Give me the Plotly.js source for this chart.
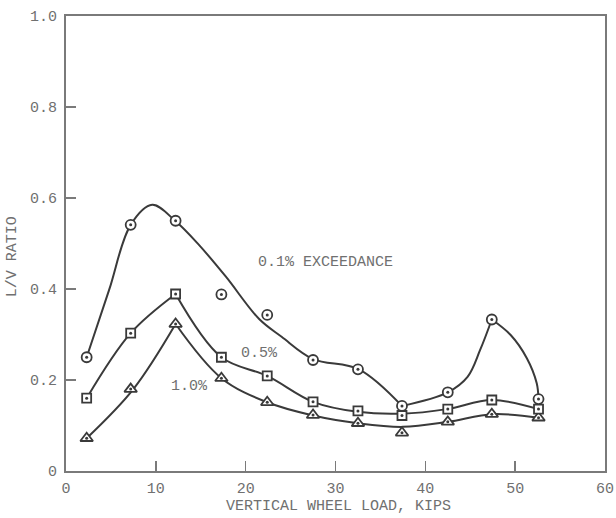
<!DOCTYPE html>
<html>
<head>
<meta charset="utf-8">
<script src="https://cdn.plot.ly/plotly-3.0.1.min.js"></script>
<style>html,body{margin:0;padding:0;background:#fff;}#chart{width:616px;height:518px;}</style>
</head>
<body>
<div id="chart"></div>
<script>
// ---- data ----
const xLoad = [2.3, 7.2, 12.2, 17.3, 22.4, 27.5, 32.5, 37.4, 42.5, 47.4, 52.6];
const exc01 = [0.25, 0.541, 0.55, 0.388, 0.343, 0.244, 0.2235, 0.143, 0.173, 0.333, 0.158];
const exc05 = [0.16, 0.303, 0.389, 0.25, 0.209, 0.152, 0.132, 0.122, 0.136, 0.156, 0.136];
const exc10 = [0.072, 0.18, 0.323, 0.204, 0.151, 0.123, 0.105, 0.084, 0.108, 0.125, 0.117];

// hand-drawn fitted curves
const curve01A_x = [2.3, 4.8, 7.2, 9.6, 12.15, 14.8, 17.8, 21.5, 24.0, 27.5, 32.6, 37.4];
const curve01A_y = [0.25, 0.398, 0.541, 0.585, 0.55, 0.497, 0.427, 0.334, 0.295, 0.246, 0.2235, 0.143];
const curve01B_x = [37.4, 42.5, 44.7, 46.1, 47.4];
const curve01B_y = [0.143, 0.173, 0.207, 0.266, 0.333];
const curve01C_x = [47.4, 49.5, 51.3, 52.4, 52.6];
const curve01C_y = [0.333, 0.299, 0.248, 0.193, 0.158];

const curve05A_x = [2.3, 7.2, 12.2];
const curve05A_y = [0.16, 0.303, 0.389];
const curve05B_x = [12.2, 17.3, 22.4, 27.5, 32.5, 37.4, 42.4, 47.4, 52.6];
const curve05B_y = [0.389, 0.25, 0.209, 0.152, 0.13, 0.126, 0.136, 0.156, 0.136];

const curve10A_x = [2.3, 7.5, 12.2];
const curve10A_y = [0.072, 0.18, 0.323];
const curve10B_x = [12.2, 17.3, 22.4, 27.5, 32.5, 37.5, 42.5, 47.5, 52.7];
const curve10B_y = [0.323, 0.204, 0.151, 0.122, 0.105, 0.097, 0.108, 0.125, 0.117];

const xTicks = [0, 10, 20, 30, 40, 50, 60];
const yTicks = [0, 0.2, 0.4, 0.6, 0.8, 1.0];
const yTickText = ['0', '0.2', '0.4', '0.6', '0.8', '1.0'];

const curveLabels = ['0.1% EXCEEDANCE', '0.5%', '1.0%'];
const labelX = [21.1, 19.3, 11.5];
const labelY = [0.459, 0.259, 0.185];

// ---- styling ----
const ink = '#3a3a3a';
const grey = '#707070';
const font = 'Liberation Mono, DejaVu Sans Mono, monospace';

function curve(x, y) {
  return {x: x, y: y, mode: 'lines', type: 'scatter', hoverinfo: 'skip', showlegend: false,
    line: {color: ink, width: 2, shape: 'spline', smoothing: 1}};
}
function marks(y, sym, size) {
  return {x: xLoad, y: y, mode: 'markers', type: 'scatter', showlegend: false,
    marker: {symbol: sym, size: size, color: '#ffffff', line: {color: ink, width: 1.8}}};
}
function dots(y) {
  return {x: xLoad, y: y, mode: 'markers', type: 'scatter', showlegend: false, hoverinfo: 'skip',
    marker: {symbol: 'circle', size: 3, color: ink}};
}

const traces = [
  curve(curve01A_x, curve01A_y), curve(curve01B_x, curve01B_y), curve(curve01C_x, curve01C_y),
  curve(curve05A_x, curve05A_y), curve(curve05B_x, curve05B_y),
  curve(curve10A_x, curve10A_y), curve(curve10B_x, curve10B_y),
  marks(exc10, 'triangle-up', 11), dots(exc10),
  marks(exc05, 'square', 9), dots(exc05),
  marks(exc01, 'circle', 10), dots(exc01)
];

const annotations = curveLabels.map((t, i) => ({
  x: labelX[i], y: labelY[i], xref: 'x', yref: 'y', text: t, showarrow: false,
  xanchor: 'left', yanchor: 'middle', font: {family: font, size: 15, color: grey}
}));
annotations.push({
  x: -0.1, y: 0.47, xref: 'paper', yref: 'paper', text: 'L/V RATIO', textangle: -90,
  showarrow: false, xanchor: 'center', yanchor: 'middle', font: {family: font, size: 15, color: grey}
});
annotations.push({
  x: 0.505, y: -0.077, xref: 'paper', yref: 'paper', text: 'VERTICAL WHEEL LOAD, KIPS',
  showarrow: false, xanchor: 'center', yanchor: 'middle', font: {family: font, size: 15, color: grey}
});

const axisCommon = {
  showgrid: false, zeroline: false, mirror: true, showline: true,
  linecolor: '#7a7a7a', linewidth: 2, ticks: 'inside', ticklen: 10, tickwidth: 1.5,
  tickcolor: '#7a7a7a', tickfont: {family: font, size: 15, color: grey},
  ticklabeloverflow: 'allow'
};

const layout = {
  width: 616, height: 518,
  margin: {l: 66, r: 11, t: 16, b: 47},
  paper_bgcolor: '#ffffff', plot_bgcolor: '#ffffff',
  xaxis: Object.assign({}, axisCommon, {range: [0, 60], tickvals: xTicks, ticklabelstandoff: 2}),
  yaxis: Object.assign({}, axisCommon, {range: [0, 1], tickvals: yTicks, ticktext: yTickText, ticklabelstandoff: 4}),
  annotations: annotations,
  showlegend: false
};

Plotly.newPlot('chart', traces, layout, {displayModeBar: false, staticPlot: true});
</script>
</body>
</html>
